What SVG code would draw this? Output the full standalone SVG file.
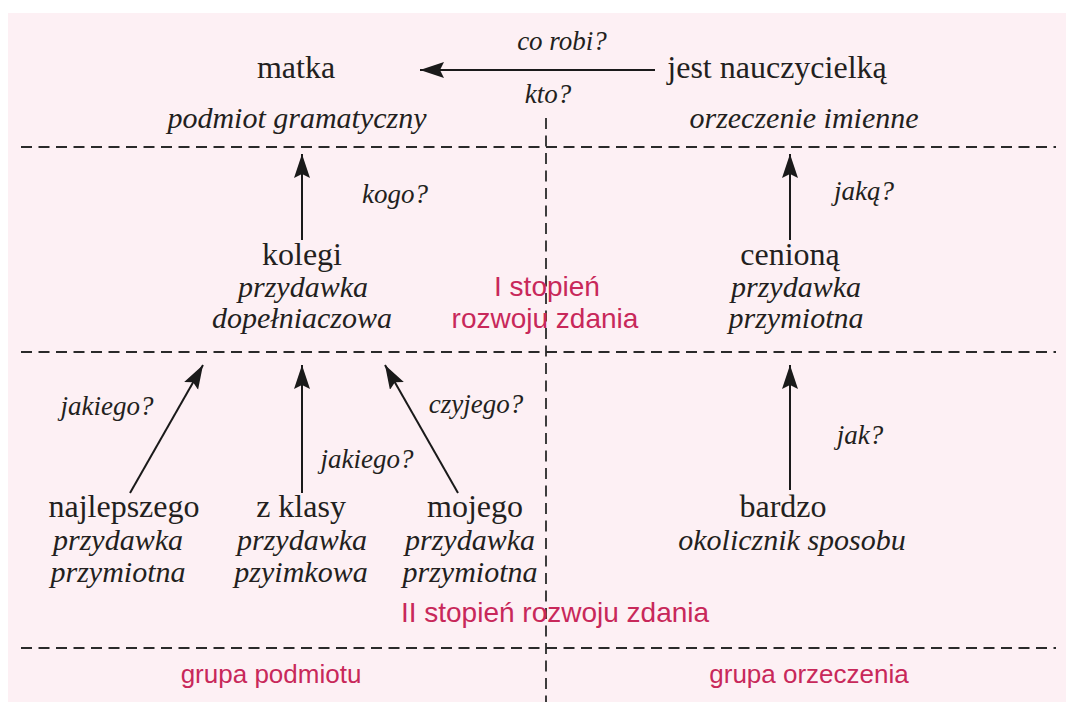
<svg xmlns="http://www.w3.org/2000/svg" width="1066" height="702" viewBox="0 0 1066 702">
  <defs>
    <style>
      .w { font-family: "Liberation Serif", "Times New Roman", serif; font-size: 32px; fill: #231f20; text-anchor: middle; }
      .i { font-family: "Liberation Serif", "Times New Roman", serif; font-style: italic; font-size: 30px; fill: #231f20; text-anchor: middle; }
      .q { font-family: "Liberation Serif", "Times New Roman", serif; font-style: italic; font-size: 27px; fill: #231f20; text-anchor: middle; }
      .r { font-family: "Liberation Sans", Arial, sans-serif; fill: #c8285a; text-anchor: middle; }
      .dash { stroke: #2a2a2a; stroke-width: 2; stroke-dasharray: 11 6.5; fill: none; }
      .vdash { stroke: #2a2a2a; stroke-width: 1.8; stroke-dasharray: 11 6.5; fill: none; }
      .arr { stroke: #1a1a1a; stroke-width: 2; fill: none; marker-end: url(#ah); }
    </style>
    <marker id="ah" markerUnits="userSpaceOnUse" markerWidth="26" markerHeight="18" refX="24" refY="8" orient="auto">
      <path d="M0,0 L24,8 L0,16 L4,8 z" fill="#1a1a1a"/>
    </marker>
  </defs>

  <rect x="8" y="13" width="1058" height="689" fill="#fdf0f4"/>

  <g id="grid">
    <line class="dash" x1="21" y1="147" x2="1056" y2="147"/>
    <line class="dash" x1="21" y1="352" x2="1056" y2="352"/>
    <line class="dash" x1="21" y1="648" x2="1056" y2="648"/>
    <line class="vdash" x1="546" y1="118" x2="546" y2="702"/>
  </g>

  <g id="connectors">
    <line class="arr" x1="655" y1="70" x2="420" y2="70"/>
    <line class="arr" x1="302" y1="240" x2="302" y2="154"/>
    <line class="arr" x1="790" y1="240" x2="790" y2="154"/>
    <line class="arr" x1="130" y1="493" x2="203" y2="365"/>
    <line class="arr" x1="302" y1="493" x2="302" y2="365"/>
    <line class="arr" x1="458" y1="493" x2="385" y2="365"/>
    <line class="arr" x1="790" y1="490" x2="790" y2="365"/>
    <text class="q" x="562" y="50">co robi?</text>
    <text class="q" x="548" y="103">kto?</text>
    <text class="q" x="395" y="203">kogo?</text>
    <text class="q" x="864" y="200">jaką?</text>
    <text class="q" x="107" y="415">jakiego?</text>
    <text class="q" x="367" y="468">jakiego?</text>
    <text class="q" x="476" y="413">czyjego?</text>
    <text class="q" x="860" y="444">jak?</text>
  </g>

  <g id="matka">
    <text class="w" x="296" y="78">matka</text>
    <text class="i" x="297" y="128">podmiot gramatyczny</text>
  </g>
  <g id="jest-nauczycielka">
    <text class="w" x="777" y="78">jest nauczycielką</text>
    <text class="i" x="804" y="128">orzeczenie imienne</text>
  </g>
  <g id="kolegi">
    <text class="w" x="302" y="265">kolegi</text>
    <text class="i" x="303" y="297">przydawka</text>
    <text class="i" x="302" y="328">dopełniaczowa</text>
  </g>
  <g id="cenion">
    <text class="w" x="790" y="265">cenioną</text>
    <text class="i" x="796" y="297">przydawka</text>
    <text class="i" x="796" y="328">przymiotna</text>
  </g>
  <g id="najlepszego">
    <text class="w" x="124" y="517">najlepszego</text>
    <text class="i" x="118" y="550">przydawka</text>
    <text class="i" x="118" y="582">przymiotna</text>
  </g>
  <g id="z-klasy">
    <text class="w" x="301" y="517">z klasy</text>
    <text class="i" x="302" y="550">przydawka</text>
    <text class="i" x="301" y="582">pzyimkowa</text>
  </g>
  <g id="mojego">
    <text class="w" x="475" y="517">mojego</text>
    <text class="i" x="470" y="550">przydawka</text>
    <text class="i" x="470" y="582">przymiotna</text>
  </g>
  <g id="bardzo">
    <text class="w" x="783" y="517">bardzo</text>
    <text class="i" x="792" y="550">okolicznik sposobu</text>
  </g>

  <g id="labels">
    <text class="r" x="547" y="296" font-size="28">I stopień</text>
    <text class="r" x="545" y="328" font-size="28">rozwoju zdania</text>
    <text class="r" x="555" y="622" font-size="28">II stopień rozwoju zdania</text>
    <text class="r" x="271" y="683" font-size="26">grupa podmiotu</text>
    <text class="r" x="809" y="683" font-size="26">grupa orzeczenia</text>
  </g>
</svg>
